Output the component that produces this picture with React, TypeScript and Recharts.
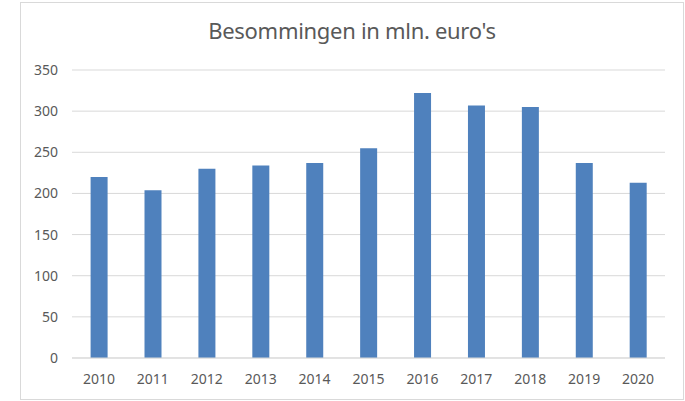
import React from 'react';
import { BarChart, Bar, XAxis, YAxis, CartesianGrid } from 'recharts';

const years = ['2010', '2011', '2012', '2013', '2014', '2015', '2016', '2017', '2018', '2019', '2020'];
const besommingen = [220, 204, 230, 234, 237, 255, 322, 307, 305, 237, 213];
const yTicks = [0, 50, 100, 150, 200, 250, 300, 350];
const title = "Besommingen in mln. euro's";

const data = years.map((y, i) => ({ year: y, value: besommingen[i] }));

const FONT = '"Noto Sans", sans-serif';

export default function App() {
  return (
    <div style={{ position: 'absolute', left: 0, top: 0, width: 685, height: 401, background: '#fff', overflow: 'hidden' }}>
      <div style={{ position: 'absolute', left: 20, top: 2, width: 664, height: 398, border: '1px solid #d9d9d9', boxSizing: 'border-box' }} />
      <div style={{ position: 'absolute', left: 20, top: 15, width: 664, textAlign: 'center', fontFamily: FONT, fontSize: 22, color: '#595959', letterSpacing: -0.3 }}>
        {title}
      </div>
      <div style={{ position: 'absolute', left: 0, top: 0 }}>
        <BarChart width={685} height={401} data={data} margin={{ top: 70, right: 20, left: 12, bottom: 13 }} barCategoryGap="34.5%">
          <CartesianGrid vertical={false} stroke="#d9d9d9" strokeWidth={1} />
          <XAxis dataKey="year" height={30} axisLine={{ stroke: '#d9d9d9' }} tickLine={false} tickSize={0} tickMargin={16}
            tick={{ fill: '#595959', fontSize: 14, fontFamily: FONT }} interval={0} />
          <YAxis width={60} domain={[0, 350]} ticks={yTicks} axisLine={false} tickLine={false} tickSize={0} tickMargin={14}
            tick={{ fill: '#595959', fontSize: 14, fontFamily: FONT }} />
          <Bar dataKey="value" fill="#4f81bd" isAnimationActive={false} />
        </BarChart>
      </div>
    </div>
  );
}
